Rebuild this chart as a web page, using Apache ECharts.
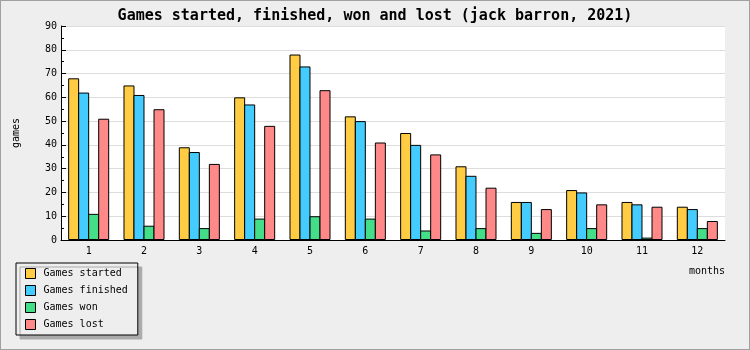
<!DOCTYPE html>
<html><head><meta charset="utf-8">
<script src="https://cdn.jsdelivr.net/npm/echarts@6/dist/echarts.min.js"></script>
<style>
html,body{margin:0;padding:0;background:#eeeeee;}
#c{width:748px;height:348px;border:1px solid #a0a0a0;background:#eeeeee;}
</style></head>
<body><div id="c"></div>
<script>
const months = ['1','2','3','4','5','6','7','8','9','10','11','12'];
const started = [68,65,39,60,78,52,45,31,16,21,16,14];
const finished = [62,61,37,57,73,50,40,27,16,20,15,13];
const won = [11,6,5,9,10,9,4,5,3,5,1,5];
const lost = [51,55,32,48,63,41,36,22,13,15,14,8];
const seriesNames = ['Games started','Games finished','Games won','Games lost'];
const colors = ['#ffcc44','#44ccff','#44dd88','#ff8888'];
const font = 'DejaVu Sans Mono';

const chart = echarts.init(document.getElementById('c'), null, {renderer:'canvas'});
const mk = (name, data, color) => ({
  name, type:'bar', data, barWidth:11, barGap:'-9%',
  itemStyle:{color, borderColor:'#000', borderWidth:1}
});
chart.setOption({
  animation:false,
  backgroundColor:'#eeeeee',
  textStyle:{fontFamily:font},
  title:{text:'Games started, finished, won and lost (jack barron, 2021)', left:'center', top:3,
    textStyle:{fontFamily:font, fontSize:15, fontWeight:'bold', color:'#000'}},
  legend:{orient:'vertical', left:15, top:262, itemWidth:10, itemHeight:10, itemGap:6,
    padding:[5,10,5,9], backgroundColor:'#eeeeee', borderColor:'#000', borderWidth:1,
    shadowColor:'#aaaaaa', shadowOffsetX:4, shadowOffsetY:4, shadowBlur:0,
    icon:'rect',
    textStyle:{fontFamily:font, fontSize:10, color:'#000', padding:[0,0,0,3]},
    data:seriesNames.map((n,i)=>({name:n, itemStyle:{color:colors[i], borderColor:'#000', borderWidth:1}}))},
  grid:{left:60, right:24, top:25, bottom:109, show:true, backgroundColor:'#ffffff', borderWidth:0},
  xAxis:{type:'category', data:months, name:'months', nameLocation:'end',
    nameGap:0,
    nameTextStyle:{fontFamily:font, fontSize:10, color:'#000', align:'right', verticalAlign:'top', padding:[26,0,0,0]},
    axisLine:{lineStyle:{color:'#000', width:1}},
    axisTick:{inside:true, length:5, lineStyle:{color:'#000'}},
    axisLabel:{fontFamily:font, fontSize:10, color:'#000', margin:6},
    splitLine:{show:false}},
  yAxis:{type:'value', min:0, max:90, interval:10, name:'games', nameLocation:'middle', nameGap:40,
    nameRotate:90,
    nameTextStyle:{fontFamily:font, fontSize:10, color:'#000'},
    axisLine:{show:true, lineStyle:{color:'#000', width:1}},
    axisTick:{show:true, inside:true, length:5, lineStyle:{color:'#000'}},
    minorTick:{show:true, splitNumber:2, length:3, lineStyle:{color:'#000'}},
    axisLabel:{fontFamily:font, fontSize:10, color:'#000', margin:4},
    splitLine:{show:true, lineStyle:{color:'#dddddd', width:1}}},
  series:[mk(seriesNames[0], started, colors[0]), mk(seriesNames[1], finished, colors[1]),
          mk(seriesNames[2], won, colors[2]), mk(seriesNames[3], lost, colors[3])]
});
</script></body></html>
